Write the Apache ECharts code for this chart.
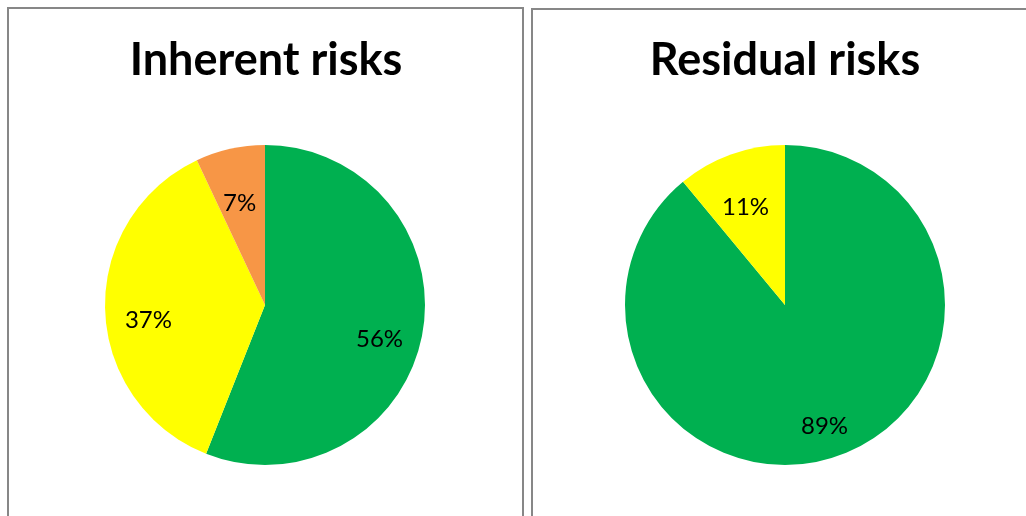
<!DOCTYPE html>
<html>
<head>
<meta charset="utf-8">
<script src="https://cdn.jsdelivr.net/npm/echarts@6/dist/echarts.min.js"></script>
<style>
html,body{margin:0;padding:0;background:#fff;}
#c{width:1026px;height:516px;}
</style>
</head>
<body>
<div id="c"></div>
<script>
const titles = ['Inherent risks', 'Residual risks'];
const inherentCategories = ['Low', 'Medium', 'High'];
const inherentValues = [56, 37, 7];
const residualCategories = ['Low', 'Medium'];
const residualValues = [89, 11];
const colors = { Low: '#00B050', Medium: '#FFFF00', High: '#F79646' };

const FONT = 'Lato';
const centers = [[265, 305], [785, 305]];
const R = 160;

function mkData(cats, vals) {
  return cats.map((c, i) => ({ name: c, value: vals[i], itemStyle: { color: colors[c] } }));
}

function pieSeries(cats, vals, center) {
  return [
    {
      type: 'pie', center: center, radius: [0, R], startAngle: 90, clockwise: true,
      silent: true, animation: false,
      label: { show: false }, labelLine: { show: false },
      itemStyle: { borderWidth: 0 },
      data: mkData(cats, vals)
    },
    {
      type: 'pie', center: center, radius: [R * 0.42, R], startAngle: 90, clockwise: true,
      silent: true, animation: false,
      itemStyle: { color: 'transparent', borderWidth: 0 },
      label: {
        show: true, position: 'inside', formatter: '{c}%',
        color: '#000', fontFamily: FONT, fontSize: 24, offset: [0, 12]
      },
      labelLine: { show: false },
      data: cats.map((c, i) => ({ name: c, value: vals[i] }))
    }
  ];
}

const chart = echarts.init(document.getElementById('c'), null, { renderer: 'canvas' });
chart.setOption({
  backgroundColor: '#fff',
  animation: false,
  graphic: [
    { type: 'rect', shape: { x: 8, y: 8, width: 515, height: 600 }, style: { fill: 'none', stroke: '#878787', lineWidth: 2 } },
    { type: 'rect', shape: { x: 532, y: 9, width: 600, height: 600 }, style: { fill: 'none', stroke: '#878787', lineWidth: 2 } },
    { type: 'text', x: 266, y: 60, style: { text: titles[0], fill: '#000', font: 'bold 45px ' + FONT, textAlign: 'center', textVerticalAlign: 'middle' } },
    { type: 'text', x: 785, y: 60, style: { text: titles[1], fill: '#000', font: 'bold 45px ' + FONT, textAlign: 'center', textVerticalAlign: 'middle' } }
  ],
  series: [].concat(
    pieSeries(inherentCategories, inherentValues, centers[0]),
    pieSeries(residualCategories, residualValues, centers[1])
  )
});
</script>
</body>
</html>
